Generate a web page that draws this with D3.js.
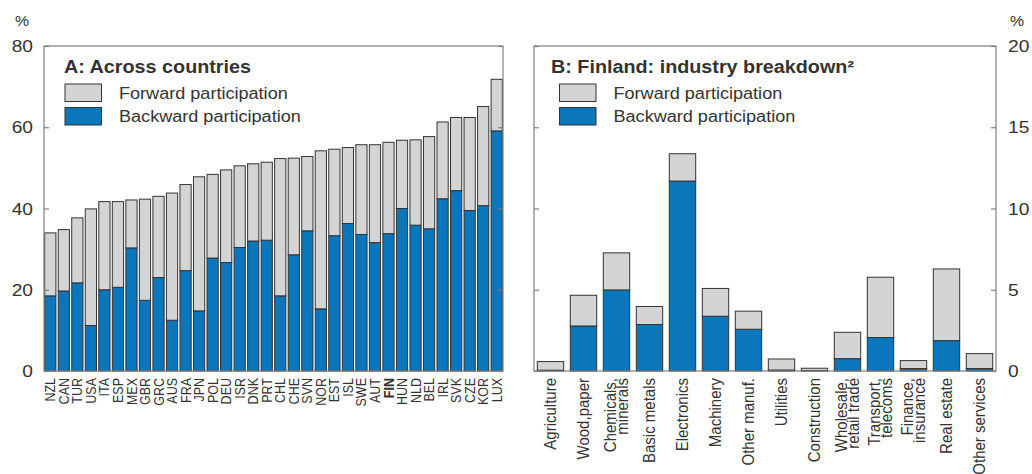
<!DOCTYPE html>
<html>
<head>
<meta charset="utf-8">
<script src="https://cdn.jsdelivr.net/npm/d3@7"></script>
<style>
  html, body { margin: 0; padding: 0; background: #fff; }
  svg { display: block; font-family: "Liberation Sans", Arial, Helvetica, sans-serif; }
</style>
</head>
<body>
<svg id="chart" width="1032" height="474"></svg>
<script>
// Panel A: value-chain participation across countries (% of gross exports)
const countries = ["NZL","CAN","TUR","USA","ITA","ESP","MEX","GBR","GRC","AUS","FRA","JPN","POL","DEU","ISR","DNK","PRT","CHL","CHE","SVN","NOR","EST","ISL","SWE","AUT","FIN","HUN","NLD","BEL","IRL","SVK","CZE","KOR","LUX"];
const backwardA = [18.5,19.7,21.7,11.2,20.0,20.6,30.3,17.4,23.0,12.5,24.7,14.8,27.8,26.7,30.4,32.0,32.2,18.5,28.6,34.5,15.3,33.3,36.3,33.6,31.6,33.8,40.0,35.9,35.0,42.4,44.4,39.5,40.7,59.1];
const forwardA  = [15.5,15.1,16.0,28.7,21.7,21.1,11.8,24.9,20.0,31.3,21.2,33.0,20.6,22.8,20.1,19.0,19.2,33.8,23.8,18.3,38.9,21.3,18.7,22.1,24.1,22.5,16.8,21.0,22.7,18.9,18.0,22.9,24.4,12.7];
const ticksA = [0,20,40,60,80];

// Panel B: Finland, breakdown by industry
const industries = [["Agriculture"],["Wood,paper"],["Chemicals,","minerals"],["Basic metals"],["Electronics"],["Machinery"],["Other manuf."],["Utilities"],["Construction"],["Wholesale,","retail trade"],["Transport,","telecoms"],["Finance,","insurance"],["Real estate"],["Other services"]];
const backwardB = [0.05,2.77,4.99,2.86,11.69,3.37,2.57,0.06,0.03,0.76,2.06,0.15,1.87,0.15];
const forwardB  = [0.53,1.89,2.28,1.11,1.68,1.71,1.11,0.68,0.14,1.62,3.71,0.49,4.41,0.92];
const ticksB = [0,5,10,15,20];

const seriesNames = ["Forward participation","Backward participation"];
const colors = { forward: "#d3d4d6", backward: "#0a76bb" };
const textColor = "#333";
const frameColor = "#7f7f7f";
const barStroke = "#333";
const sx = 1.13;   // slightly wide lettering

const svg = d3.select("#chart");
const plotTop = 46, plotBottom = 371;

// place a text element at (x, y) with the wide lettering
function putText(parent, x, y, str, size, anchor, extra) {
  const t = parent.append("text")
    .attr("transform", `translate(${x},${y}) scale(${sx},1)` + (extra || ""))
    .attr("text-anchor", anchor || "start")
    .attr("font-size", size).attr("fill", textColor).text(str);
  return t;
}

function panel(opts) {
  const g = svg.append("g");
  const x = d3.scaleBand().domain(opts.keys).range([opts.left, opts.right])
    .paddingInner(opts.padIn).paddingOuter(opts.padOut);
  const y = d3.scaleLinear().domain(opts.domain).range([plotBottom, plotTop]);

  // stacked bars: backward at the base, forward stacked above
  const rows = opts.keys.map((k, i) => ({ key: k, backward: opts.backward[i], forward: opts.forward[i] }));
  const stack = d3.stack().keys(["backward", "forward"])(rows);
  stack.forEach(layer => {
    g.append("g").selectAll("rect").data(layer).join("rect")
      .attr("x", d => x(d.data.key))
      .attr("width", x.bandwidth())
      .attr("y", d => y(d[1]))
      .attr("height", d => Math.max(0, y(d[0]) - y(d[1])))
      .attr("fill", colors[layer.key])
      .attr("stroke", barStroke)
      .attr("stroke-width", 1);
  });

  // frame
  g.append("rect").attr("x", opts.left).attr("y", plotTop)
    .attr("width", opts.right - opts.left).attr("height", plotBottom - plotTop)
    .attr("fill", "none").attr("stroke", frameColor).attr("stroke-width", 1.2);

  // inner ticks on both sides
  const leftAxis = d3.axisRight(y).tickValues(opts.ticks).tickSize(5).tickFormat("");
  const rightAxis = d3.axisLeft(y).tickValues(opts.ticks).tickSize(5).tickFormat("");
  [g.append("g").attr("transform", `translate(${opts.left},0)`).call(leftAxis),
   g.append("g").attr("transform", `translate(${opts.right},0)`).call(rightAxis)]
    .forEach(a => { a.select(".domain").remove(); a.selectAll("line").attr("stroke", frameColor).attr("stroke-width", 1.2); });

  // tick labels
  opts.ticks.forEach(v => {
    putText(g, opts.labelX, y(v), v, 17, opts.labelAnchor).attr("dy", "0.36em");
  });
  putText(g, opts.pctX, 26, "%", 14, "middle");

  // title + legend
  putText(g, opts.titleX, 73, opts.title, 17.5).attr("font-weight", "bold");
  const leg = [["forward", seriesNames[0], 84], ["backward", seriesNames[1], 107.5]];
  leg.forEach(([k, name, yy]) => {
    g.append("rect").attr("x", opts.swatchX).attr("y", yy).attr("width", 36.5).attr("height", 17.5)
      .attr("fill", colors[k]).attr("stroke", barStroke).attr("stroke-width", 1);
    putText(g, opts.swatchX + 54, yy + 14.5, name, 16);
  });
  return { g, x, y };
}

// Panel A
const A = panel({
  keys: countries, backward: backwardA, forward: forwardA, domain: [0, 80], ticks: ticksA,
  left: 44, right: 503, padIn: 0.17, padOut: 0.05,
  labelX: 33, labelAnchor: "end", pctX: 22, titleX: 64, swatchX: 65,
  title: "A: Across countries"
});
countries.forEach(d => {
  A.g.append("text")
    .attr("transform", `translate(${A.x(d) + A.x.bandwidth() / 2},378) scale(1.12,1) rotate(-90)`)
    .attr("dy", "0.36em").attr("text-anchor", "end")
    .attr("font-size", 12.5).attr("fill", textColor)
    .attr("font-weight", d === "FIN" ? "bold" : "normal")
    .text(d);
});

// Panel B
const keysB = industries.map(d => d.join(" "));
const B = panel({
  keys: keysB, backward: backwardB, forward: forwardB, domain: [0, 20], ticks: ticksB,
  left: 534, right: 996, padIn: 0.2, padOut: 0.1,
  labelX: 1008, labelAnchor: "start", pctX: 1017, titleX: 551, swatchX: 559.5,
  title: "B: Finland: industry breakdown²"
});
const lineGap = 12;
industries.forEach((lines, i) => {
  const cx = B.x(keysB[i]) + B.x.bandwidth() / 2;
  lines.forEach((t, j) => {
    const off = (j - (lines.length - 1) / 2) * lineGap;
    B.g.append("text")
      .attr("transform", `translate(${cx + off},378) scale(1.08,1) rotate(-90)`)
      .attr("dy", "0.36em").attr("text-anchor", "end")
      .attr("font-size", 15).attr("fill", textColor).text(t);
  });
});
</script>
</body>
</html>
